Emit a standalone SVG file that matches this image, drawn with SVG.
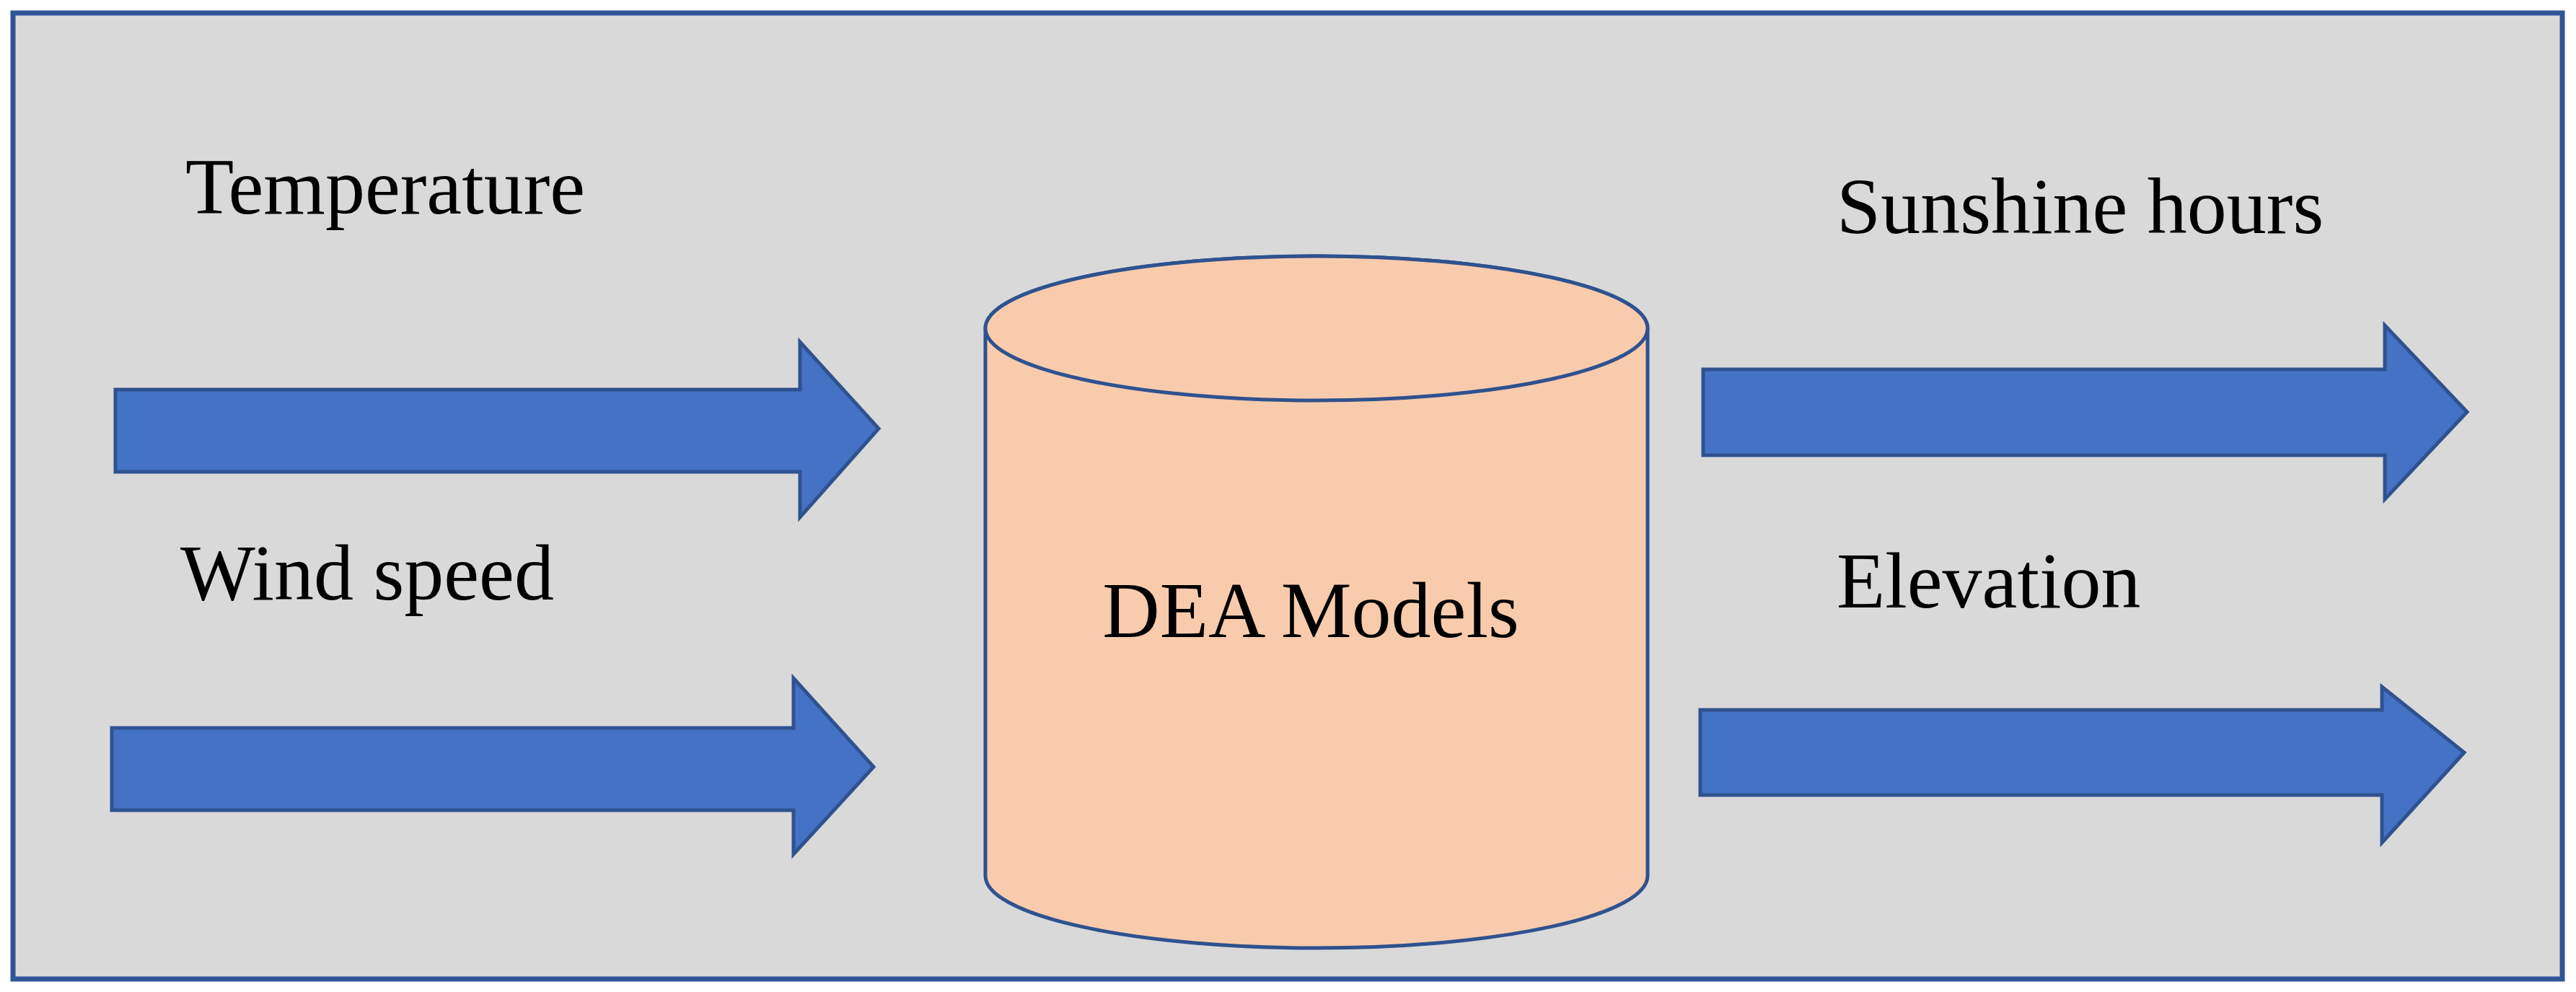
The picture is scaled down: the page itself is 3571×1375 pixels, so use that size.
<svg xmlns="http://www.w3.org/2000/svg" width="3571" height="1375" viewBox="0 0 3571 1375">
<style>
.t{font-family:"Liberation Serif",serif;font-size:110px;fill:#000}
.ar{fill:#4472c4;stroke:#2f528f;stroke-width:5}
</style>
<rect x="0" y="0" width="3571" height="1375" fill="#fff"/>
<rect x="18" y="18" width="3534" height="1339" fill="#d9d9d9" stroke="#2f5597" stroke-width="7"/>
<g id="connectors">
<polygon class="ar" points="160,540 1109,540 1109,474 1218,594 1109,717 1109,654 160,654"/>
<polygon class="ar" points="155,1009 1100,1009 1100,940 1211,1063 1100,1184 1100,1123 155,1123"/>
<polygon class="ar" points="2361,512 3306,512 3306,451 3420,571 3306,692 3306,631 2361,631"/>
<polygon class="ar" points="2357,984 3302,984 3302,952 3416,1043 3302,1168 3302,1102 2357,1102"/>
</g>
<g id="dea">
<path d="M1366,455 L1366,1214 A459,100 0 0 0 2284,1214 L2284,455 A459,100 0 0 0 1366,455 Z" fill="#f8cbad" stroke="#2f528f" stroke-width="5"/>
<ellipse cx="1825" cy="455" rx="459" ry="100" fill="#f8cbad" stroke="#2f528f" stroke-width="5"/>
<text class="t" x="1817" y="883" text-anchor="middle">DEA Models</text>
</g>
<g id="temperature"><text class="t" x="257" y="296">Temperature</text></g>
<g id="wind"><text class="t" x="250" y="831">Wind speed</text></g>
<g id="sunshine"><text class="t" x="2546" y="323">Sunshine hours</text></g>
<g id="elevation"><text class="t" x="2546" y="842">Elevation</text></g>
</svg>
